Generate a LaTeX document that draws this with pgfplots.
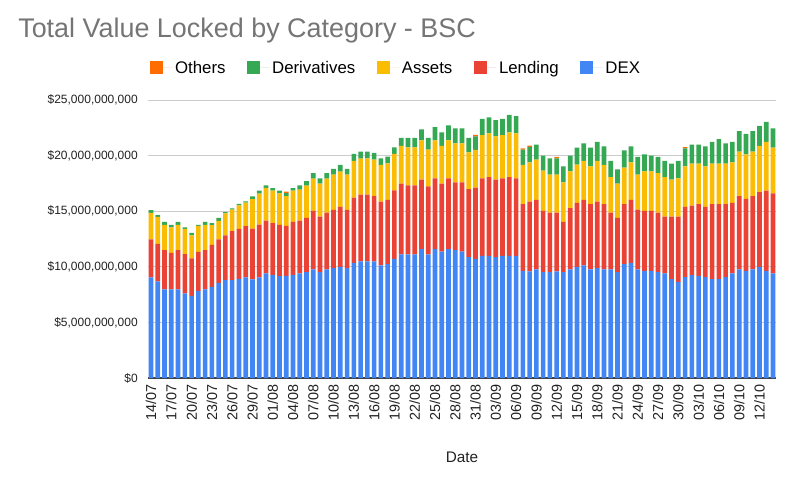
\documentclass[border=0pt]{standalone}
\usepackage{pgfplots}
\pgfplotsset{compat=1.18}
\usepackage{pgfplotstable}
\usepackage{fontspec}
\setmainfont{Liberation Sans}

\definecolor{cDEX}{HTML}{4285F4}
\definecolor{cLend}{HTML}{EA4335}
\definecolor{cAsset}{HTML}{FBBC04}
\definecolor{cDeriv}{HTML}{34A853}
\definecolor{cOther}{HTML}{FF6D01}
\definecolor{titlegray}{HTML}{757575}
\definecolor{labgray}{HTML}{222222}

% values in billions of USD, one row per day from 14/07 (x=0)
\pgfplotstableread{
x DEX Lending Assets Deriv Others
0 9.04 3.42 2.40 0.24 0
1 8.68 3.39 2.43 0.15 0
2 7.96 3.54 2.28 0.27 0
3 7.96 3.30 2.28 0.24 0
4 7.96 3.54 2.28 0.27 0
5 7.60 3.54 2.28 0.12 0
6 7.39 3.36 2.07 0.24 0
7 7.84 3.51 2.34 0.09 0
8 7.96 3.54 2.28 0.27 0
9 8.20 3.78 1.77 0.18 0
10 8.56 3.90 1.68 0.27 0
11 8.80 4.02 1.98 0.12 0
12 8.80 4.41 1.93 0.12 0
13 8.92 4.50 2.11 0.12 0
14 9.04 4.62 2.11 0.12 0
15 8.86 4.57 2.65 0.25 0
16 9.04 4.76 2.77 0.27 0
17 9.40 4.76 2.94 0.22 0
18 9.28 4.64 2.92 0.24 0
19 9.16 4.61 2.83 0.24 0
20 9.19 4.48 2.69 0.27 0.12
21 9.28 4.76 2.80 0.24 0
22 9.40 4.76 2.77 0.39 0
23 9.52 4.88 2.89 0.42 0
24 9.76 5.27 2.89 0.51 0
25 9.52 5.00 2.95 0.48 0
26 9.76 5.12 3.04 0.51 0
27 9.88 5.24 3.16 0.52 0
28 10.00 5.39 3.16 0.61 0
29 9.88 5.24 3.16 0.52 0
30 10.36 5.87 3.29 0.63 0
31 10.48 6.00 3.25 0.63 0
32 10.48 6.00 3.28 0.60 0
33 10.48 5.88 3.28 0.60 0
34 10.12 5.75 3.29 0.60 0
35 10.24 5.78 3.28 0.60 0
36 10.72 6.15 3.28 0.60 0
37 11.11 6.36 3.40 0.73 0
38 11.11 6.21 3.43 0.85 0
39 11.11 6.21 3.43 0.85 0
40 11.60 6.23 3.53 0.99 0
41 11.11 6.12 3.31 1.06 0
42 11.60 6.35 3.41 1.20 0
43 11.36 6.11 3.40 1.21 0
44 11.60 6.35 3.41 1.35 0
45 11.50 6.09 3.52 1.33 0
46 11.36 6.23 3.52 1.33 0
47 10.87 6.12 3.31 1.30 0
48 10.72 6.39 3.40 1.21 0.15
49 10.99 6.96 3.89 1.47 0
50 10.99 7.08 3.92 1.44 0
51 10.87 6.96 3.89 1.47 0
52 10.99 6.96 3.89 1.47 0
53 10.99 7.08 4.01 1.59 0
54 10.99 6.96 4.04 1.56 0
55 9.64 5.99 3.53 1.38 0.12
56 9.58 6.29 3.53 1.38 0.12
57 9.76 6.26 3.62 1.35 0
58 9.52 5.51 3.61 1.36 0
59 9.52 5.36 3.40 1.48 0
60 9.58 5.30 3.40 1.48 0.12
61 9.52 4.52 3.55 1.45 0
62 9.76 5.51 3.31 1.42 0
63 10.00 5.75 3.44 1.53 0
64 10.12 5.90 3.50 1.59 0
65 9.76 5.87 3.41 1.68 0
66 9.88 5.99 3.65 1.71 0
67 9.76 5.87 3.53 1.68 0
68 9.76 5.12 3.19 1.45 0
69 9.52 4.88 3.07 1.30 0
70 10.24 5.39 3.29 1.56 0
71 10.36 5.66 3.38 1.44 0
72 9.76 5.39 3.13 1.60 0
73 9.64 5.39 3.55 1.54 0
74 9.64 5.39 3.55 1.42 0
75 9.52 5.36 3.55 1.45 0
76 9.40 5.12 3.55 1.45 0
77 8.89 5.63 3.31 1.45 0
78 8.64 5.88 3.43 1.57 0
79 9.07 6.32 3.65 1.62 0.10
80 9.25 6.26 3.77 1.71 0
81 9.19 6.44 3.65 1.71 0
82 9.07 6.32 3.65 1.80 0
83 8.89 6.74 3.65 1.95 0
84 8.89 6.74 3.65 2.20 0
85 9.07 6.56 3.65 1.83 0
86 9.40 6.35 3.65 1.83 0
87 9.76 6.60 4.00 1.84 0
88 9.64 6.47 4.01 1.84 0
89 9.76 6.60 4.00 1.84 0
90 10.00 6.72 4.15 1.81 0
91 9.64 7.20 4.39 1.81 0
92 9.40 7.20 4.12 1.72 0
}\tvl

\begin{document}
\begin{tikzpicture}
\path[use as bounding box] (0,0) rectangle (600pt,362.25pt);
\node[anchor=base west, inner sep=0pt, text=titlegray,
      font=\fontsize{20.2}{24}\selectfont]
  at (13.5pt,333.75pt) {Total Value Locked by Category - BSC};

\begin{axis}[
  at={(111pt,78.75pt)}, anchor=south west,
  scale only axis, width=471pt, height=208.5pt,
  ybar stacked, bar width=3.5pt,
  xmin=-0.45, xmax=92.45, ymin=0, ymax=25,
  axis lines*=left,
  y axis line style={draw=none},
  x axis line style={draw=black!75, line width=0.9pt},
  major tick length=0pt,
  ymajorgrids, grid style={draw=black!20, line width=0.6pt},
  ytick={0,5,10,15,20,25},
  yticklabels={\$0,{\$5,000,000,000},{\$10,000,000,000},{\$15,000,000,000},{\$20,000,000,000},{\$25,000,000,000}},
  yticklabel style={font=\fontsize{9}{11}\selectfont, text=labgray, inner sep=0pt, xshift=-7.5pt},
  xtick={0,3,...,90},
  xticklabels={14/07,17/07,20/07,23/07,26/07,29/07,01/08,04/08,07/08,10/08,13/08,16/08,19/08,22/08,25/08,28/08,31/08,03/09,06/09,09/09,12/09,15/09,18/09,21/09,24/09,27/09,30/09,03/10,06/10,09/10,12/10},
  xticklabel style={rotate=90, anchor=east, font=\fontsize{10.8}{12}\selectfont, text=labgray, inner sep=0pt, outer sep=5pt},
  xlabel={Date},
  xlabel style={at={(axis description cs:0.5,-0.286)}, anchor=center, font=\fontsize{11.5}{13}\selectfont, text=labgray},
  legend columns=5,
  reverse legend,
  legend style={at={(axis description cs:-0.004,1.117)}, anchor=west,
    draw=none, fill=none, font=\fontsize{12.6}{15}\selectfont,
    /tikz/every even column/.append style={column sep=14pt}},
  legend image code/.code={\fill[#1] (0pt,-5pt) rectangle (10pt,5pt);
    \path (0pt,0pt) -- (17pt,0pt);},
]
\addplot[fill=cDEX, draw=none] table[x=x, y=DEX]{\tvl};
\addplot[fill=cLend, draw=none] table[x=x, y=Lending]{\tvl};
\addplot[fill=cAsset, draw=none] table[x=x, y=Assets]{\tvl};
\addplot[fill=cDeriv, draw=none] table[x=x, y=Deriv]{\tvl};
\addplot[fill=cOther, draw=none] table[x=x, y=Others]{\tvl};
\legend{\strut DEX,\strut Lending,\strut Assets,\strut Derivatives,\strut Others}
\end{axis}
\end{tikzpicture}
\end{document}
